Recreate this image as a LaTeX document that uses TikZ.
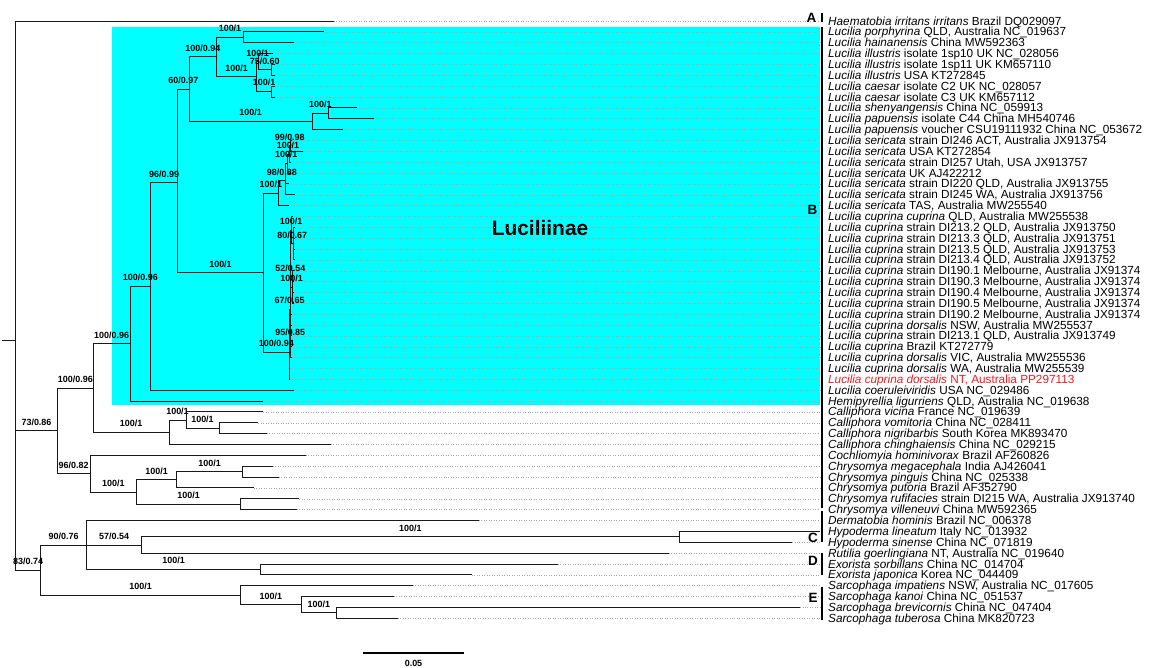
\documentclass[tikz,border=0pt]{standalone}
\usepackage{fontspec}
\setmainfont{Liberation Sans}
\usepackage{xcolor}
\definecolor{luccyan}{rgb}{0,1,1}
\definecolor{newseq}{rgb}{0.93,0.11,0.14}
\usetikzlibrary{positioning}
\usetikzlibrary{calc}

\begin{document}
\begin{tikzpicture}[x=1bp, y=-10.86bp,
	branch/.style={draw=black!90, line width=1bp},
	tipline/.style={draw=gray!70, dotted, line width=0.5bp},
	leaf/.style={anchor=west, inner sep=0pt, text height=9.8bp, text depth=1.8bp, font=\fontsize{11.8}{12}\selectfont},
	supp/.style={anchor=base, yshift=5.6bp, inner sep=0pt, font=\bfseries\fontsize{9}{10}\selectfont},
	cladebar/.style={draw=black, line width=2.2bp},
	cladename/.style={inner sep=0pt, font=\bfseries\fontsize{13.5}{14}\selectfont}]
\useasboundingbox (0,-0.934) rectangle (1149,60.485);

% highlight
\filldraw[fill=luccyan, draw=none] (112,1.55) rectangle (820,36.36);
\node[inner sep=0pt, font=\bfseries\fontsize{21}{22}\selectfont] (lucname) at (540,20.06) {Luciliinae};

% tips
\coordinate (edge) at (820,0);
\coordinate (t1) at (334,1);
\coordinate (t2) at (324.3,2);
\coordinate (t3) at (294,3);
\coordinate (t4) at (273,4);
\coordinate (t5) at (274.5,5);
\coordinate (t6) at (274.5,6);
\coordinate (t7) at (275,7);
\coordinate (t8) at (275,8);
\coordinate (t9) at (356.7,9);
\coordinate (t10) at (374.3,10);
\coordinate (t11) at (342.7,11);
\coordinate (t12) at (292,12);
\coordinate (t13) at (302.7,13);
\coordinate (t14) at (291,14);
\coordinate (t15) at (290,15);
\coordinate (t16) at (289,16);
\coordinate (t17) at (295,17);
\coordinate (t18) at (289,18);
\coordinate (t19) at (293,19);
\coordinate (t20) at (295,20);
\coordinate (t21) at (295,21);
\coordinate (t22) at (295,22);
\coordinate (t23) at (295,23);
\coordinate (t24) at (294,24);
\coordinate (t25) at (294,25);
\coordinate (t26) at (294,26);
\coordinate (t27) at (294,27);
\coordinate (t28) at (292,28);
\coordinate (t29) at (291.5,29);
\coordinate (t30) at (291.5,30);
\coordinate (t31) at (291.5,31);
\coordinate (t32) at (291.5,32);
\coordinate (t33) at (290,33);
\coordinate (t34) at (290,34);
\coordinate (t35) at (294,35);
\coordinate (t36) at (263.3,36);
\coordinate (t37) at (263.3,37);
\coordinate (t38) at (258.3,38);
\coordinate (t39) at (266.7,39);
\coordinate (t40) at (331,40);
\coordinate (t41) at (306,41);
\coordinate (t42) at (272.7,42);
\coordinate (t43) at (279,43);
\coordinate (t44) at (254,44);
\coordinate (t45) at (299.3,45);
\coordinate (t46) at (296.7,46);
\coordinate (t47) at (479,47);
\coordinate (t48) at (820,48);
\coordinate (t49) at (792,49);
\coordinate (t50) at (669,50);
\coordinate (t51) at (557.7,51);
\coordinate (t52) at (471.7,52);
\coordinate (t53) at (412.7,53);
\coordinate (t54) at (394,54);
\coordinate (t55) at (800,55);
\coordinate (t56) at (398,56);
\foreach \i in {1,...,56}
	\draw[tipline] (t\i) -- (t\i -| edge);

% internal nodes
\coordinate (stem) at (2,30.43);
\coordinate (nroot) at (15.7,30.43);
\coordinate (n73) at (57.3,38.74);
\coordinate (nlucall) at (93.3,34.8);
\coordinate (nluc) at (130,30.72);
\coordinate (nlucA) at (150.7,25.45);
\coordinate (nlucB) at (177.7,15.9);
\coordinate (nlucC) at (189,7.28);
\coordinate (nlucD) at (216.7,4.3125);
\coordinate (nporph) at (243.3,2.5);
\coordinate (nilca) at (256.7,6.125);
\coordinate (nill) at (258.5,4.75);
\coordinate (nillB) at (271,5.5);
\coordinate (ncaes) at (271.7,7.5);
\coordinate (nshpa) at (312.3,10.25);
\coordinate (nshen) at (328.3,9.5);
\coordinate (nsecu) at (263.3,24.19);
\coordinate (nserF) at (278.3,16.85);
\coordinate (nserD) at (285.5,15.71);
\coordinate (nserC) at (287,14.125);
\coordinate (nserB) at (289,13.25);
\coordinate (nserA) at (290.5,12.5);
\coordinate (ncup) at (289.3,31.51);
\coordinate (ncupG) at (290,27.54);
\coordinate (ncupB) at (290.8,24.58);
\coordinate (ncupC) at (291.5,20.25);
\coordinate (ncupD) at (293,21.5);
\coordinate (ncupE) at (292.5,25.5);
\coordinate (ncupF) at (290.5,30.5);
\coordinate (ncal) at (169,38.875);
\coordinate (ncalB) at (186,37.75);
\coordinate (ncalC) at (219,38.5);
\coordinate (nchr) at (90,42.6875);
\coordinate (nchrA) at (136.7,44.375);
\coordinate (nchrB) at (176.7,43.25);
\coordinate (nchrC) at (242.7,42.5);
\coordinate (nchrD) at (240.7,45.5);
\coordinate (n83) at (40.7,51.5625);
\coordinate (n90) at (86.7,49.25);
\coordinate (n57) at (141.7,49.25);
\coordinate (nhyp) at (679,48.5);
\coordinate (nexo) at (260.7,51.5);
\coordinate (nsarc) at (240.7,53.875);
\coordinate (nsarcB) at (301,54.75);
\coordinate (nsarcC) at (336.7,55.5);

% root
\draw[branch] (stem) -- (nroot);
\draw[branch] (nroot) |- (t1);
\draw[branch] (nroot) |- (n73);
\draw[branch] (nroot) |- (n83);
\draw[branch] (n73) |- (nlucall);
\draw[branch] (n73) |- (nchr);

% Luciliinae
\draw[branch] (nlucall) |- (nluc);
\draw[branch] (nluc) |- (nlucA);
\draw[branch] (nluc) |- (t36);
\draw[branch] (nlucA) |- (nlucB);
\draw[branch] (nlucA) |- (t35);
\draw[branch] (nlucB) |- (nlucC);
\draw[branch] (nlucB) |- (nsecu);
\draw[branch] (nlucC) |- (nlucD);
\draw[branch] (nlucC) |- (nshpa);
\draw[branch] (nlucD) |- (nporph);
\draw[branch] (nlucD) |- (nilca);
\draw[branch] (nporph) |- (t2);
\draw[branch] (nporph) |- (t3);
\draw[branch] (nilca) |- (nill);
\draw[branch] (nilca) |- (ncaes);
\draw[branch] (nill) |- (t4);
\draw[branch] (nill) |- (nillB);
\draw[branch] (nillB) |- (t5);
\draw[branch] (nillB) |- (t6);
\draw[branch] (ncaes) |- (t7);
\draw[branch] (ncaes) |- (t8);
\draw[branch] (nshpa) |- (nshen);
\draw[branch] (nshpa) |- (t11);
\draw[branch] (nshen) |- (t9);
\draw[branch] (nshen) |- (t10);

% sericata
\draw[branch] (nsecu) |- (nserF);
\draw[branch] (nsecu) |- (ncup);
\draw[branch] (nserF) |- (nserD);
\draw[branch] (nserF) |- (t18);
\draw[branch] (nserD) |- (nserC);
\draw[branch] (nserD) |- (t16);
\draw[branch] (nserD) |- (t17);
\draw[branch] (nserC) |- (nserB);
\draw[branch] (nserC) |- (t15);
\draw[branch] (nserB) |- (nserA);
\draw[branch] (nserB) |- (t14);
\draw[branch] (nserA) |- (t12);
\draw[branch] (nserA) |- (t13);

% cuprina
\draw[branch] (ncup) |- (ncupG);
\draw[branch] (ncup) |- (t33);
\draw[branch] (ncup) |- (t34);
\draw[branch] (ncupG) |- (ncupB);
\draw[branch] (ncupG) |- (ncupF);
\draw[branch] (ncupB) |- (ncupC);
\draw[branch] (ncupB) |- (ncupE);
\draw[branch] (ncupB) |- (t28);
\draw[branch] (ncupC) |- (t19);
\draw[branch] (ncupC) |- (ncupD);
\draw[branch] (ncupD) |- (t20);
\draw[branch] (ncupD) |- (t21);
\draw[branch] (ncupD) |- (t22);
\draw[branch] (ncupD) |- (t23);
\draw[branch] (ncupE) |- (t24);
\draw[branch] (ncupE) |- (t25);
\draw[branch] (ncupE) |- (t26);
\draw[branch] (ncupE) |- (t27);
\draw[branch] (ncupF) |- (t29);
\draw[branch] (ncupF) |- (t30);
\draw[branch] (ncupF) |- (t31);
\draw[branch] (ncupF) |- (t32);

% Calliphora
\draw[branch] (nlucall) |- (ncal);
\draw[branch] (ncal) |- (ncalB);
\draw[branch] (ncal) |- (t40);
\draw[branch] (ncalB) |- (t37);
\draw[branch] (ncalB) |- (ncalC);
\draw[branch] (ncalC) |- (t38);
\draw[branch] (ncalC) |- (t39);

% Chrysomya
\draw[branch] (nchr) |- (t41);
\draw[branch] (nchr) |- (nchrA);
\draw[branch] (nchrA) |- (nchrB);
\draw[branch] (nchrA) |- (nchrD);
\draw[branch] (nchrB) |- (nchrC);
\draw[branch] (nchrB) |- (t44);
\draw[branch] (nchrC) |- (t42);
\draw[branch] (nchrC) |- (t43);
\draw[branch] (nchrD) |- (t45);
\draw[branch] (nchrD) |- (t46);

% Oestridae, Tachinidae, Sarcophagidae
\draw[branch] (n83) |- (n90);
\draw[branch] (n83) |- (nsarc);
\draw[branch] (n90) |- (t47);
\draw[branch] (n90) |- (n57);
\draw[branch] (n90) |- (nexo);
\draw[branch] (n57) |- (nhyp);
\draw[branch] (n57) |- (t50);
\draw[branch] (nhyp) |- (t48);
\draw[branch] (nhyp) |- (t49);
\draw[branch] (nexo) |- (t51);
\draw[branch] (nexo) |- (t52);
\draw[branch] (nsarc) |- (t53);
\draw[branch] (nsarc) |- (nsarcB);
\draw[branch] (nsarcB) |- (t54);
\draw[branch] (nsarcB) |- (nsarcC);
\draw[branch] (nsarcC) |- (t55);
\draw[branch] (nsarcC) |- (t56);

% support values
\node[supp] (s73) at ($(nroot|-n73)!.5!(n73)$) {73/0.86};
\node[supp] (slucall) at ($(n73|-nlucall)!.5!(nlucall)$) {100/0.96};
\node[supp] (sluc) at ($(nlucall|-nluc)!.5!(nluc)$) {100/0.96};
\node[supp] (slucA) at ($(nluc|-nlucA)!.5!(nlucA)$) {100/0.96};
\node[supp] (slucB) at ($(nlucA|-nlucB)!.5!(nlucB)$) {96/0.99};
\node[supp] (slucC) at ($(nlucB|-nlucC)!.5!(nlucC)$) {60/0.97};
\node[supp] (slucD) at ($(nlucC|-nlucD)!.5!(nlucD)$) {100/0.94};
\node[supp] (sporph) at ($(nlucD|-nporph)!.5!(nporph)$) {100/1};
\node[supp] (silca) at ($(nlucD|-nilca)!.5!(nilca)$) {100/1};
\node[supp] (sill) at ($(nilca|-nill)!.5!(nill)$) {100/1};
\node[supp] (sillB) at ($(nill|-nillB)!.5!(nillB)$) {75/0.60};
\node[supp] (scaes) at ($(nilca|-ncaes)!.5!(ncaes)$) {100/1};
\node[supp] (sshpa) at ($(nlucC|-nshpa)!.5!(nshpa)$) {100/1};
\node[supp] (sshen) at ($(nshpa|-nshen)!.5!(nshen)$) {100/1};
\node[supp] (ssecu) at ($(nlucB|-nsecu)!.5!(nsecu)$) {100/1};
\node[supp] (sserF) at ($(nsecu|-nserF)!.5!(nserF)$) {100/1};
\node[supp] (sserD) at ($(nserF|-nserD)!.5!(nserD)$) {98/0.88};
\node[supp] (sserC) at ($(nserD|-nserC)!.5!(nserC)$) {100/1};
\node[supp] (sserB) at ($(nserC|-nserB)!.5!(nserB)$) {100/1};
\node[supp] (sserA) at ($(nserB|-nserA)!.5!(nserA)$) {99/0.98};
\node[supp] (scup) at ($(nsecu|-ncup)!.5!(ncup)$) {100/0.94};
\node[supp] (scupG) at ($(ncup|-ncupG)!.5!(ncupG)$) {67/0.65};
\node[supp] (scupB) at ($(ncupG|-ncupB)!.5!(ncupB)$) {52/0.54};
\node[supp] (scupC) at ($(ncupB|-ncupC)!.5!(ncupC)$) {100/1};
\node[supp] (scupD) at ($(ncupC|-ncupD)!.5!(ncupD)$) {80/0.67};
\node[supp] (scupE) at ($(ncupB|-ncupE)!.5!(ncupE)$) {100/1};
\node[supp] (scupF) at ($(ncupG|-ncupF)!.5!(ncupF)$) {95/0.85};
\node[supp] (scal) at ($(nlucall|-ncal)!.5!(ncal)$) {100/1};
\node[supp] (scalB) at ($(ncal|-ncalB)!.5!(ncalB)$) {100/1};
\node[supp] (scalC) at ($(ncalB|-ncalC)!.5!(ncalC)$) {100/1};
\node[supp] (schr) at ($(n73|-nchr)!.5!(nchr)$) {96/0.82};
\node[supp] (schrA) at ($(nchr|-nchrA)!.5!(nchrA)$) {100/1};
\node[supp] (schrB) at ($(nchrA|-nchrB)!.5!(nchrB)$) {100/1};
\node[supp] (schrC) at ($(nchrB|-nchrC)!.5!(nchrC)$) {100/1};
\node[supp] (schrD) at ($(nchrA|-nchrD)!.5!(nchrD)$) {100/1};
\node[supp] (s83) at ($(nroot|-n83)!.5!(n83)$) {83/0.74};
\node[supp] (s90) at ($(n83|-n90)!.5!(n90)$) {90/0.76};
\node[supp] (s57) at ($(n90|-n57)!.5!(n57)$) {57/0.54};
\node[supp] (shyp) at ($(n57|-nhyp)!.5!(nhyp)$) {100/1};
\node[supp] (sexo) at ($(n90|-nexo)!.5!(nexo)$) {100/1};
\node[supp] (ssarc) at ($(n83|-nsarc)!.5!(nsarc)$) {100/1};
\node[supp] (ssarcB) at ($(nsarc|-nsarcB)!.5!(nsarcB)$) {100/1};
\node[supp] (ssarcC) at ($(nsarcB|-nsarcC)!.5!(nsarcC)$) {100/1};

% taxa
\node[leaf] (l1) at (828,1) {\textit{Haematobia irritans irritans} Brazil DQ029097};
\node[leaf] (l2) at (828,2) {\textit{Lucilia porphyrina} QLD, Australia NC\_019637};
\node[leaf] (l3) at (828,3) {\textit{Lucilia hainanensis} China MW592363};
\node[leaf] (l4) at (828,4) {\textit{Lucilia illustris} isolate 1sp10 UK NC\_028056};
\node[leaf] (l5) at (828,5) {\textit{Lucilia illustris} isolate 1sp11 UK KM657110};
\node[leaf] (l6) at (828,6) {\textit{Lucilia illustris} USA KT272845};
\node[leaf] (l7) at (828,7) {\textit{Lucilia caesar} isolate C2 UK NC\_028057};
\node[leaf] (l8) at (828,8) {\textit{Lucilia caesar} isolate C3 UK KM657112};
\node[leaf] (l9) at (828,9) {\textit{Lucilia shenyangensis} China NC\_059913};
\node[leaf] (l10) at (828,10) {\textit{Lucilia papuensis} isolate C44 China MH540746};
\node[leaf] (l11) at (828,11) {\textit{Lucilia papuensis} voucher CSU19111932 China NC\_053672};
\node[leaf] (l12) at (828,12) {\textit{Lucilia sericata} strain DI246 ACT, Australia JX913754};
\node[leaf] (l13) at (828,13) {\textit{Lucilia sericata} USA KT272854};
\node[leaf] (l14) at (828,14) {\textit{Lucilia sericata} strain DI257 Utah, USA JX913757};
\node[leaf] (l15) at (828,15) {\textit{Lucilia sericata} UK AJ422212};
\node[leaf] (l16) at (828,16) {\textit{Lucilia sericata} strain DI220 QLD, Australia JX913755};
\node[leaf] (l17) at (828,17) {\textit{Lucilia sericata} strain DI245 WA, Australia JX913756};
\node[leaf] (l18) at (828,18) {\textit{Lucilia sericata} TAS, Australia MW255540};
\node[leaf] (l19) at (828,19) {\textit{Lucilia cuprina cuprina} QLD, Australia MW255538};
\node[leaf] (l20) at (828,20) {\textit{Lucilia cuprina} strain DI213.2 QLD, Australia JX913750};
\node[leaf] (l21) at (828,21) {\textit{Lucilia cuprina} strain DI213.3 QLD, Australia JX913751};
\node[leaf] (l22) at (828,22) {\textit{Lucilia cuprina} strain DI213.5 QLD, Australia JX913753};
\node[leaf] (l23) at (828,23) {\textit{Lucilia cuprina} strain DI213.4 QLD, Australia JX913752};
\node[leaf] (l24) at (828,24) {\textit{Lucilia cuprina} strain DI190.1 Melbourne, Australia JX91374};
\node[leaf] (l25) at (828,25) {\textit{Lucilia cuprina} strain DI190.3 Melbourne, Australia JX91374};
\node[leaf] (l26) at (828,26) {\textit{Lucilia cuprina} strain DI190.4 Melbourne, Australia JX91374};
\node[leaf] (l27) at (828,27) {\textit{Lucilia cuprina} strain DI190.5 Melbourne, Australia JX91374};
\node[leaf] (l28) at (828,28) {\textit{Lucilia cuprina} strain DI190.2 Melbourne, Australia JX91374};
\node[leaf] (l29) at (828,29) {\textit{Lucilia cuprina dorsalis} NSW, Australia MW255537};
\node[leaf] (l30) at (828,30) {\textit{Lucilia cuprina} strain DI213.1 QLD, Australia JX913749};
\node[leaf] (l31) at (828,31) {\textit{Lucilia cuprina} Brazil KT272779};
\node[leaf] (l32) at (828,32) {\textit{Lucilia cuprina dorsalis} VIC, Australia MW255536};
\node[leaf] (l33) at (828,33) {\textit{Lucilia cuprina dorsalis} WA, Australia MW255539};
\node[leaf, text=newseq] (l34) at (828,34) {\textit{Lucilia cuprina dorsalis} NT, Australia PP297113};
\node[leaf] (l35) at (828,35) {\textit{Lucilia coeruleiviridis} USA NC\_029486};
\node[leaf] (l36) at (828,36) {\textit{Hemipyrellia ligurriens} QLD, Australia NC\_019638};
\node[leaf] (l37) at (828,37) {\textit{Calliphora vicina} France NC\_019639};
\node[leaf] (l38) at (828,38) {\textit{Calliphora vomitoria} China NC\_028411};
\node[leaf] (l39) at (828,39) {\textit{Calliphora nigribarbis} South Korea MK893470};
\node[leaf] (l40) at (828,40) {\textit{Calliphora chinghaiensis} China NC\_029215};
\node[leaf] (l41) at (828,41) {\textit{Cochliomyia hominivorax} Brazil AF260826};
\node[leaf] (l42) at (828,42) {\textit{Chrysomya megacephala} India AJ426041};
\node[leaf] (l43) at (828,43) {\textit{Chrysomya pinguis} China NC\_025338};
\node[leaf] (l44) at (828,44) {\textit{Chrysomya putoria} Brazil AF352790};
\node[leaf] (l45) at (828,45) {\textit{Chrysomya rufifacies} strain DI215 WA, Australia JX913740};
\node[leaf] (l46) at (828,46) {\textit{Chrysomya villeneuvi} China MW592365};
\node[leaf] (l47) at (828,47) {\textit{Dermatobia hominis} Brazil NC\_006378};
\node[leaf] (l48) at (828,48) {\textit{Hypoderma lineatum} Italy NC\_013932};
\node[leaf] (l49) at (828,49) {\textit{Hypoderma sinense} China NC\_071819};
\node[leaf] (l50) at (828,50) {\textit{Rutilia goerlingiana} NT, Australia NC\_019640};
\node[leaf] (l51) at (828,51) {\textit{Exorista sorbillans} China NC\_014704};
\node[leaf] (l52) at (828,52) {\textit{Exorista japonica} Korea NC\_044409};
\node[leaf] (l53) at (828,53) {\textit{Sarcophaga impatiens} NSW, Australia NC\_017605};
\node[leaf] (l54) at (828,54) {\textit{Sarcophaga kanoi} China NC\_051537};
\node[leaf] (l55) at (828,55) {\textit{Sarcophaga brevicornis} China NC\_047404};
\node[leaf] (l56) at (828,56) {\textit{Sarcophaga tuberosa} China MK820723};

% clades
\draw[cladebar] (822,0.3) -- (822,1.1);
\draw[cladebar] (822,1.55) -- (822,45.85);
\draw[cladebar] (822,46.12) -- (822,48.97);
\draw[cladebar] (822,50.0) -- (822,52.0);
\draw[cladebar] (822,53.1) -- (822,56.16);
\node[cladename] (cA) at (811.5,0.75) {A};
\node[cladename] (cB) at (812.5,18.4) {B};
\node[cladename] (cC) at (813,48.56) {C};
\node[cladename] (cD) at (813,50.72) {D};
\node[cladename] (cE) at (813,54.13) {E};

% scale
\coordinate (sbl) at (363,59.2);
\coordinate (sbr) at (464,59.2);
\draw[line width=1.5bp] (sbl) -- (sbr);
\node[inner sep=0pt, font=\bfseries\fontsize{9}{10}\selectfont] (sblab) at (413.5,60.15) {0.05};
\end{tikzpicture}
\end{document}
